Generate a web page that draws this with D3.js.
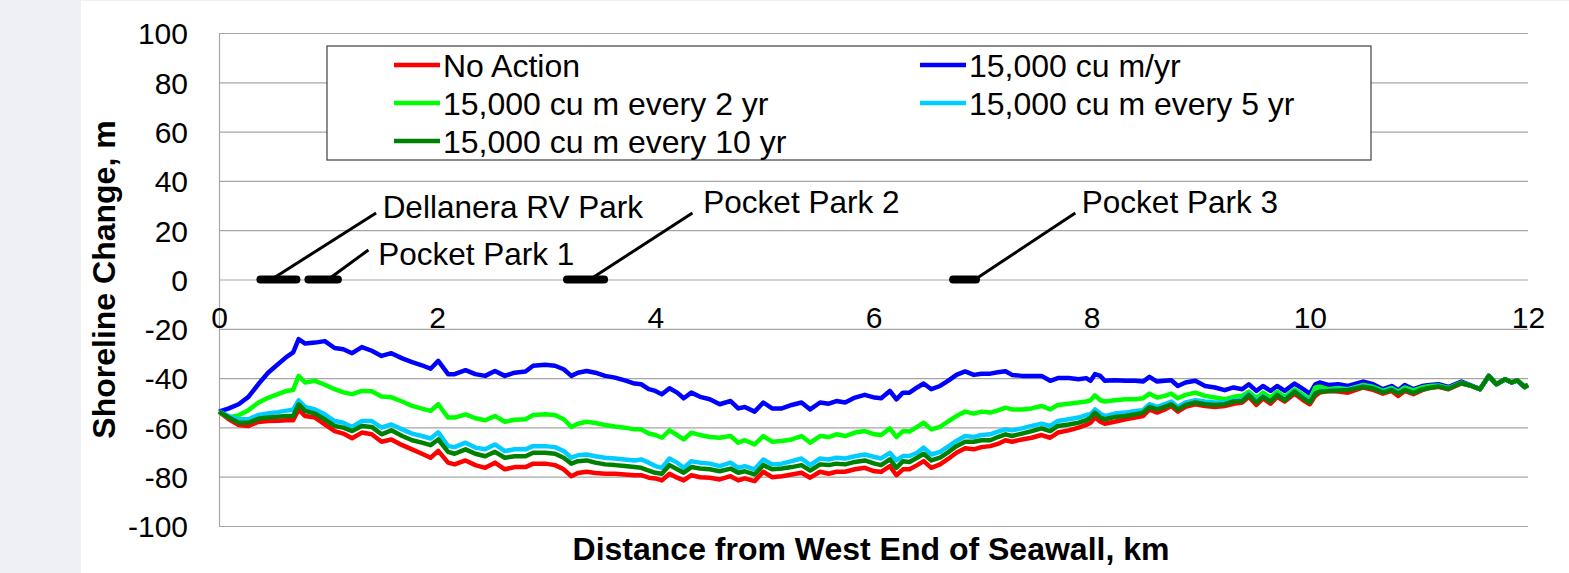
<!DOCTYPE html>
<meta charset="utf-8">
<style>
body { margin: 0; background: #fff; }
svg { display: block; font-family: "Liberation Sans", Arial, sans-serif; }
.grid line { stroke: #a6a6a6; stroke-width: 1.2; }
.grid .domain { display: none; }
.axis .domain { stroke: #a6a6a6; stroke-width: 1.2; }
.axis text { font-size: 30px; fill: #000; }
</style>
<svg width="1569" height="573"></svg>
<script src="https://d3js.org/d3.v7.min.js"></script>
<script>

// distance from west end of seawall (km)
var km = [0, 0.09, 0.18, 0.27, 0.36, 0.45, 0.54, 0.62, 0.68, 0.73, 0.79, 0.88, 0.97, 1.06, 1.14, 1.22, 1.31, 1.40, 1.49, 1.58, 1.68, 1.77, 1.86, 1.94, 2.01,
  2.10, 2.16, 2.26, 2.35, 2.44, 2.53, 2.62, 2.71, 2.81, 2.88, 2.99, 3.08, 3.16, 3.23, 3.29, 3.37, 3.45, 3.54, 3.63, 3.72, 3.81, 3.87, 3.94,
  4.00, 4.06, 4.13, 4.20, 4.26, 4.33, 4.41, 4.50, 4.59, 4.69, 4.76, 4.82, 4.91, 4.99, 5.07, 5.16, 5.25, 5.34, 5.42, 5.51, 5.59, 5.66, 5.74, 5.83, 5.92,
  6.01, 6.07, 6.15, 6.21, 6.27, 6.33, 6.40, 6.46, 6.53, 6.61, 6.69, 6.76, 6.84, 6.92, 6.99, 7.07, 7.14, 7.21, 7.27, 7.36, 7.45, 7.54, 7.62, 7.69, 7.79, 7.88, 7.95, 7.99,
  8.03, 8.08, 8.12, 8.21, 8.31, 8.40, 8.47, 8.53, 8.60, 8.67, 8.73, 8.79, 8.86, 8.95, 9.04, 9.13, 9.22, 9.30, 9.38, 9.44, 9.51, 9.57, 9.64, 9.70, 9.77, 9.86, 9.94, 10.00,
  10.05, 10.09, 10.17, 10.26, 10.35, 10.49, 10.58, 10.67, 10.75, 10.81, 10.87, 10.95, 11.03, 11.10, 11.18, 11.27, 11.39, 11.47, 11.56, 11.64, 11.71, 11.79, 11.85, 11.90, 11.97, 12.00];

// shoreline change (m) per scenario
var noAction = [-53.6, -56.7, -59, -59.4, -57.8, -57.4, -57.3, -57.1, -57.1, -52.7, -55.4, -56, -58.8, -61.5, -62.5, -64.4, -62.1, -62.8, -65.8, -64.9, -67.2, -68.9, -70.7, -72.3, -69.5,
  -74.3, -75, -73.4, -75.3, -76.4, -74.3, -77, -76.1, -76.1, -74.7, -74.7, -75.3, -77, -79.8, -78.5, -78, -78.5, -78.8, -78.8, -79.1, -79.4, -79.4, -80.4,
  -80.7, -81.5, -78.8, -80.4, -81.5, -79.4, -80.2, -80.4, -81.1, -79.8, -81.5, -80.7, -81.8, -78, -80.2, -79.8, -79.1, -78.4, -80.4, -78, -78.8, -78, -78, -77, -76.4,
  -77.8, -78, -75.7, -79.4, -77, -77, -75.3, -73.7, -76.4, -75, -72.6, -70.3, -68.5, -68.9, -68, -67.6, -66.7, -65.2, -65.8, -64.9, -64.2, -63.1, -64.2, -62.1, -61.2, -60.1, -59, -58.1,
  -56, -57.7, -58.5, -57.7, -56.7, -56, -55.4, -52.7, -54, -52.7, -51.3, -53.6, -51.7, -50.6, -51.3, -51.7, -51.3, -50.4, -49.9, -47.6, -50.9, -48.2, -50.4, -47.6, -49.5, -46.3, -49, -50.6,
  -47.2, -45.9, -45.2, -45.4, -45.9, -43.8, -44.8, -46.3, -45.2, -47.2, -45.2, -46.5, -44.9, -44, -43.5, -44.5, -42.2, -43, -44.5, -39.1, -42.5, -40.5, -41.8, -40.9, -43.6, -42.8];

var perYear = [-53.6, -52.3, -50.6, -47.6, -42.5, -37.8, -34.4, -31.4, -29.6, -24.2, -26, -25.6, -25, -27.8, -28.3, -29.9, -27.4, -28.9, -31, -29.9, -32, -33.5, -34.8, -36.2, -33,
  -38.4, -38.4, -36.8, -38.4, -39.1, -37.1, -39.1, -37.8, -37.3, -35, -34.6, -35, -36.4, -39.1, -37.8, -37.1, -37.8, -39.1, -39.8, -40.9, -42.2, -42.5, -44.5,
  -45.2, -46.6, -44.1, -45.9, -48.2, -45.9, -47.6, -48.6, -50.6, -49.3, -52.3, -51.7, -53.6, -49.9, -52.3, -52.3, -50.9, -49.9, -52.7, -49.9, -50.4, -49.3, -49.9, -47.9, -46.8,
  -47.9, -48.2, -45.2, -48.6, -45.9, -45.9, -43.8, -42.2, -44.5, -43.2, -40.9, -38.7, -37.3, -38.7, -38.2, -38.2, -37.6, -37.2, -38.7, -39.1, -39.1, -39.1, -41.1, -40, -40, -40.5, -40, -41.1,
  -38.4, -39.1, -41.1, -40.9, -41.1, -41.1, -41.4, -39.5, -41.4, -41.1, -40.9, -43.2, -41.8, -41.1, -43.2, -43.8, -44.9, -43.8, -44.5, -42.5, -45.2, -43.2, -45.2, -43.2, -45.2, -42.2, -44.5, -46.3,
  -42.5, -41.8, -42.8, -42.5, -43.2, -41.4, -42.5, -44.5, -43.2, -44.9, -42.8, -44.5, -43.2, -42.8, -42.5, -43.6, -41.4, -42.8, -44.5, -39.1, -42.5, -40.5, -41.8, -40.9, -43.6, -42.8];

var every2yr = [-53.6, -56, -55.1, -53, -50, -48, -46.5, -45.2, -44.8, -39.1, -41.8, -41.1, -42.7, -44.5, -45.8, -46.5, -45.2, -45.3, -47.5, -47.8, -49.5, -51.3, -52.4, -53.3, -50.6,
  -56, -56, -54.7, -56.3, -57.1, -55.4, -57.7, -56.9, -56.7, -55, -54.7, -55, -56.7, -59.8, -58.5, -57.7, -58.2, -59, -59.6, -60.1, -60.8, -60.8, -62.5,
  -63.1, -64.2, -61.2, -63.1, -64.9, -62.1, -63.1, -63.9, -64.2, -63.5, -66.2, -65.2, -66.9, -63.5, -65.8, -65.5, -64.9, -63.5, -66.2, -63.5, -63.9, -62.8, -63.5, -62.1, -61.5,
  -62.8, -63.1, -60.4, -63.9, -61.5, -61.7, -59.8, -58.1, -60.8, -59.8, -57.4, -55.4, -53.6, -54.4, -53.6, -54, -53.1, -52, -52.7, -52.7, -52.3, -51.3, -52.7, -50.9, -50.4, -49.9, -49.5, -49,
  -47, -49, -49.5, -49, -48.6, -48.6, -48.2, -46.3, -47.9, -47.2, -46.3, -48.2, -46.8, -45.9, -47.2, -47.9, -48.6, -47.6, -47.2, -45.5, -48.2, -45.9, -47.9, -45.5, -47.6, -44.5, -46.8, -48.6,
  -43.8, -43.5, -44.5, -44, -44.5, -42.8, -43.5, -45.2, -44, -45.5, -43.8, -45, -43.8, -43.2, -43, -44, -41.8, -43, -44.5, -39.1, -42.5, -40.5, -41.8, -40.9, -43.6, -42.8];

var every5yr = [-53.6, -55.4, -56.7, -56.7, -55, -54.3, -53.8, -53.2, -52.8, -49, -51.7, -52.7, -54.7, -57.4, -58.1, -59.8, -57.4, -57.4, -60.1, -58.8, -60.8, -62.5, -63.5, -64.5, -62,
  -67.6, -68, -66.2, -68.2, -68.9, -66.9, -69.6, -68.9, -68.9, -67.6, -67.6, -68, -69.6, -72.3, -71.3, -71, -71.7, -72.3, -72.6, -73, -73.4, -73, -74.3,
  -75.7, -76.4, -72.6, -74.3, -76.4, -73.7, -74.3, -74.7, -75.7, -74.3, -76.4, -75.7, -77, -73, -75, -74.7, -73.7, -72.6, -75.3, -72.6, -73, -72.3, -72.6, -71.7, -71,
  -72, -72.6, -70.3, -73.4, -71.6, -71.6, -70.3, -68.2, -71, -69.9, -67.6, -65.5, -63.5, -63.9, -63.1, -62.8, -61.7, -60.8, -61.2, -60.4, -59.4, -58.5, -59.4, -57.4, -56.7, -56, -55, -54.7,
  -52.7, -54.4, -55.4, -54.4, -54, -53.3, -53, -50.6, -51.7, -50.6, -49.5, -51.7, -49.9, -49, -49.5, -49.9, -49.9, -49, -48.6, -46.3, -49.3, -47.2, -49.3, -46.6, -48.6, -45.2, -47.6, -49.3,
  -45.9, -45.2, -45, -44.6, -44.5, -43.2, -44, -45.5, -44.5, -45.9, -44.5, -45.9, -44.5, -43.8, -43.3, -44.2, -42, -43, -44.5, -39.1, -42.5, -40.5, -41.8, -40.9, -43.6, -42.8];

var every10yr = [-53.6, -56, -58.1, -58.1, -56.5, -56, -55.7, -55.4, -55.4, -50.6, -53.3, -54.4, -56.7, -59.4, -60.1, -61.5, -59.4, -59.8, -62.8, -61.2, -63.5, -65.2, -66.2, -67.2, -64.9,
  -69.9, -70.7, -68.9, -70.7, -71.7, -69.9, -72.3, -71.7, -71.7, -70.3, -70.3, -70.7, -72.3, -74.7, -73.7, -73.4, -74.3, -75, -75.3, -75.7, -76.1, -76.4, -77.5,
  -78.4, -78.8, -75.3, -77, -78.4, -76.1, -76.7, -77, -77.8, -76.7, -78.4, -77.8, -79.1, -75.3, -77, -76.7, -76.1, -75.3, -77.5, -75, -75.3, -74.7, -75, -74, -73.4,
  -74.7, -75.3, -73, -76.4, -73.7, -74, -72.3, -70.7, -73.4, -72.3, -69.9, -67.6, -65.8, -65.8, -65.2, -65.2, -63.9, -62.8, -63.5, -62.5, -61.5, -60.4, -61.5, -59.4, -58.8, -58.1, -57.1, -56,
  -54, -56, -56.7, -55.8, -55.4, -54.7, -54, -51.7, -52.7, -51.7, -50.6, -52.7, -50.9, -49.9, -50.6, -50.9, -50.6, -49.5, -49.3, -46.8, -49.9, -47.6, -49.5, -46.8, -49, -45.5, -48.2, -49.9,
  -46.2, -45.5, -45.2, -45, -44.8, -43.5, -44.2, -45.8, -44.8, -46.2, -44.8, -46, -44.6, -43.9, -43.4, -44.3, -42, -43, -44.5, -39.1, -42.5, -40.5, -41.8, -40.9, -43.6, -42.8];

var seriesNames = ["No Action", "15,000 cu m/yr", "15,000 cu m every 2 yr", "15,000 cu m every 5 yr", "15,000 cu m every 10 yr"];
var seriesValues = [noAction, perYear, every2yr, every5yr, every10yr];
var seriesColors = ["#ff0000", "#0000ff", "#00ff00", "#00ccff", "#008000"];

var xTicks = [0, 2, 4, 6, 8, 10, 12];
var yTicks = [-100, -80, -60, -40, -20, 0, 20, 40, 60, 80, 100];

// parks along the seawall (km), leader line ends and label anchors (km, m)
var parkNames = ["Dellanera RV Park", "Pocket Park 1", "Pocket Park 2", "Pocket Park 3"];
var parkFrom = [0.38, 0.82, 3.19, 6.73];
var parkTo = [0.71, 1.09, 3.53, 6.94];
var leaderFrom = [0.48, 1.0, 3.40, 6.93];
var leaderTo = [[1.44, 27], [1.37, 12], [4.34, 27], [7.85, 27]];
var labelAt = [[1.50, 25], [1.46, 6], [4.44, 27], [7.91, 27]];

var svg = d3.select("svg");

// slide background on the left
svg.append("rect").attr("width", 1569).attr("height", 573).attr("fill", "#eef0f6");
svg.append("rect").attr("x", 81).attr("y", 1).attr("width", 1488).attr("height", 572).attr("fill", "#fff");

var x = d3.scaleLinear().domain([0, 12]).range([219, 1528]);
var y = d3.scaleLinear().domain([-100, 100]).range([526, 33]);

// plain hyphen for negatives, like the original
var plain = function(d) { return String(d); };

// horizontal gridlines
svg.append("g")
    .attr("class", "grid")
    .attr("transform", "translate(219,0)")
    .call(d3.axisLeft(y).tickValues(yTicks).tickSize(-(1528 - 219)).tickFormat(""));

// y axis
svg.append("g")
    .attr("class", "axis")
    .attr("transform", "translate(219,0)")
    .call(d3.axisLeft(y).tickValues(yTicks).tickSize(0).tickPadding(31).tickSizeOuter(0).tickFormat(plain))
  .selectAll("text")
    .attr("dy", "0.36em");

// x axis sits on the zero line, labels just under it
var xAxis = svg.append("g")
    .attr("class", "axis")
    .attr("transform", "translate(0," + y(0) + ")")
    .call(d3.axisBottom(x).tickValues(xTicks).tickSize(0).tickPadding(27).tickFormat(plain));
xAxis.select(".domain").remove();

// scenario lines
var line = d3.line()
    .x(function(d) { return x(d[0]); })
    .y(function(d) { return y(d[1]); });

seriesValues.forEach(function(vals, i) {
  svg.append("path")
      .datum(km.map(function(k, j) { return [k, vals[j]]; }))
      .attr("fill", "none")
      .attr("stroke", seriesColors[i])
      .attr("stroke-width", 4.5)
      .attr("stroke-linejoin", "round")
      .attr("d", line);
});

// park markers with leader lines
var parks = svg.append("g");
parkNames.forEach(function(name, i) {
  parks.append("line")
      .attr("x1", x(parkFrom[i])).attr("x2", x(parkTo[i]))
      .attr("y1", y(0)).attr("y2", y(0))
      .attr("stroke", "#000").attr("stroke-width", 8).attr("stroke-linecap", "round");
  parks.append("line")
      .attr("x1", x(leaderFrom[i])).attr("y1", y(0))
      .attr("x2", x(leaderTo[i][0])).attr("y2", y(leaderTo[i][1]))
      .attr("stroke", "#000").attr("stroke-width", 3);
  parks.append("text")
      .attr("x", x(labelAt[i][0]))
      .attr("y", y(labelAt[i][1]))
      .attr("font-size", 31.5)
      .text(name);
});

// legend
var legend = svg.append("g");
legend.append("rect")
    .attr("x", 327).attr("y", 46)
    .attr("width", 1371 - 327).attr("height", 160 - 46)
    .attr("fill", "#fff").attr("stroke", "#404040").attr("stroke-width", 1.2);

var item = legend.selectAll("g.item")
    .data(seriesNames)
  .enter().append("g")
    .attr("class", "item")
    .attr("transform", function(d, i) {
      return "translate(" + (i % 2 ? 920 : 394) + "," + (65 + Math.floor(i / 2) * 38) + ")";
    });

item.append("line")
    .attr("x1", 0).attr("x2", 46)
    .attr("stroke", function(d, i) { return seriesColors[i]; })
    .attr("stroke-width", 4.5);

item.append("text")
    .attr("x", 49)
    .attr("dy", "0.36em")
    .attr("font-size", 32)
    .text(function(d) { return d; });

// axis titles
svg.append("text")
    .attr("transform", "translate(115," + y(0) + ") rotate(-90)")
    .attr("text-anchor", "middle")
    .attr("font-size", 32)
    .attr("font-weight", "bold")
    .text("Shoreline Change, m");

svg.append("text")
    .attr("x", 871)
    .attr("y", 560)
    .attr("text-anchor", "middle")
    .attr("font-size", 32)
    .attr("font-weight", "bold")
    .text("Distance from West End of Seawall, km");

</script>
